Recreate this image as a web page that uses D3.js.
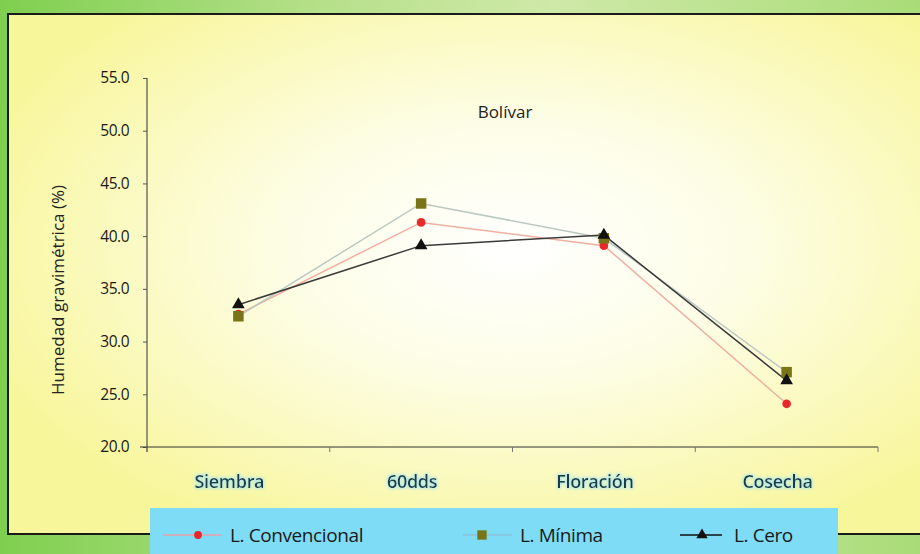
<!DOCTYPE html>
<html>
<head>
<meta charset="utf-8">
<script src="https://cdn.jsdelivr.net/npm/d3@7/dist/d3.min.js"></script>
<style>
  html, body { margin: 0; padding: 0; background: #8fd35c; }
  svg { display: block; }
</style>
</head>
<body>
<script>
// Stages of the crop cycle and soil moisture per tillage system
const stages = ["Siembra", "60dds", "Floración", "Cosecha"];
const convencional = [32.6, 41.3, 39.1, 24.1];
const minima = [32.4, 43.1, 39.8, 27.1];
const cero = [33.5, 39.1, 40.1, 26.3];
const yTicks = [20, 25, 30, 35, 40, 45, 50, 55];
const seriesNames = ["L. Convencional", "L. Mínima", "L. Cero"];

const W = 920, H = 554;
const svg = d3.select("body").append("svg").attr("width", W).attr("height", H);
const defs = svg.append("defs");

// green page background
const bg = defs.append("linearGradient").attr("id", "bg").attr("x1", 0).attr("x2", 1).attr("y1", 0).attr("y2", 0);
bg.append("stop").attr("offset", "0%").attr("stop-color", "#7fcf4f");
bg.append("stop").attr("offset", "35%").attr("stop-color", "#b6e08a");
bg.append("stop").attr("offset", "60%").attr("stop-color", "#cfe9a8");
bg.append("stop").attr("offset", "100%").attr("stop-color", "#a9dc78");
svg.append("rect").attr("width", W).attr("height", H).attr("fill", "url(#bg)");

// pale yellow panel, whiter toward the middle
const panel = defs.append("radialGradient").attr("id", "panel")
  .attr("cx", "55%").attr("cy", "45%").attr("r", "62%");
panel.append("stop").attr("offset", "0%").attr("stop-color", "#ffffff");
panel.append("stop").attr("offset", "40%").attr("stop-color", "#fdfde6");
panel.append("stop").attr("offset", "100%").attr("stop-color", "#f8f69a");
svg.append("rect").attr("x", 8).attr("y", 14).attr("width", W).attr("height", 520)
  .attr("fill", "url(#panel)").attr("stroke", "#1a1a1a").attr("stroke-width", 2);

const x = d3.scaleBand().domain(stages).range([147, 878]).padding(0);
const y = d3.scaleLinear().domain([20, 55]).range([447, 78]);
const cx = d => x(d) + x.bandwidth() / 2;

// axes
const yAxis = d3.axisLeft(y).tickValues(yTicks).tickFormat(d3.format(".1f")).tickSize(4).tickPadding(14);
const gy = svg.append("g").attr("transform", "translate(147,0)").call(yAxis);
gy.select(".domain").attr("stroke", "#333").attr("d", "M0,78V452");
gy.selectAll(".tick line").attr("stroke", "#555");
gy.selectAll(".tick text").attr("fill", "#1a1a1a").style("font-family", "'Open Sans', sans-serif").style("font-size", "15.5px").style("letter-spacing", "-0.5px");

const xAxis = d3.axisBottom(x).tickValues([]).tickSizeOuter(0);
const gx = svg.append("g").attr("transform", "translate(0,447)").call(xAxis);
gx.select(".domain").attr("stroke", "#333").attr("d", "M140,0H878");
gx.selectAll(".bnd").data(stages.concat(["end"])).enter().append("line")
  .attr("x1", (d, i) => i < stages.length ? x(d) : x.range()[1])
  .attr("x2", (d, i) => i < stages.length ? x(d) : x.range()[1])
  .attr("y1", 0).attr("y2", 5).attr("stroke", "#777");

// category labels with a faint cyan halo
const glow = defs.append("filter").attr("id", "glow").attr("x", "-10%").attr("y", "-30%").attr("width", "120%").attr("height", "160%");
glow.append("feMorphology").attr("in", "SourceAlpha").attr("operator", "dilate").attr("radius", 1).attr("result", "d");
glow.append("feGaussianBlur").attr("in", "d").attr("stdDeviation", 1.5).attr("result", "b");
glow.append("feFlood").attr("flood-color", "#a8e8f0").attr("flood-opacity", 0.8);
glow.append("feComposite").attr("in2", "b").attr("operator", "in").attr("result", "c");
const fm = glow.append("feMerge");
fm.append("feMergeNode").attr("in", "c");
fm.append("feMergeNode").attr("in", "SourceGraphic");

svg.selectAll(".cat").data(stages).enter().append("text")
  .attr("x", d => cx(d) - 9).attr("y", 488)
  .attr("text-anchor", "middle").attr("fill", "#1d3a46")
  .attr("filter", "url(#glow)")
  .style("font-family", "'Open Sans', sans-serif").style("font-size", "18px").style("font-weight", 600)
  .style("letter-spacing", "-0.3px")
  .text(d => d);

// axis title
svg.append("text").attr("transform", "translate(64,290) rotate(-90)")
  .attr("text-anchor", "middle").attr("fill", "#222")
  .style("font-family", "'Open Sans', sans-serif").style("font-size", "17px")
  .text("Humedad gravimétrica (%)");

// chart title
svg.append("text").attr("x", 505).attr("y", 118).attr("text-anchor", "middle").attr("fill", "#222")
  .style("font-family", "'Open Sans', sans-serif").style("font-size", "17px").text("Bolívar");

// series
const series = [
  { name: seriesNames[0], values: convencional, line: "#f0b0a0", lw: 1.5, color: "#e8282a", shape: d3.symbolCircle, size: 60 },
  { name: seriesNames[1], values: minima, line: "#bcc8c2", lw: 1.5, color: "#7a7418", shape: d3.symbolSquare, size: 110 },
  { name: seriesNames[2], values: cero, line: "#3a3a3a", lw: 1.5, color: "#111", shape: d3.symbolTriangle, size: 70 }
];
const line = d3.line().x(d => cx(d.s)).y(d => y(d.v));
series.forEach(s => {
  const pts = stages.map((st, i) => ({ s: st, v: s.values[i] }));
  svg.append("path").datum(pts).attr("d", line).attr("fill", "none")
    .attr("stroke", s.line).attr("stroke-width", s.lw);
});
series.forEach(s => {
  const pts = stages.map((st, i) => ({ s: st, v: s.values[i] }));
  svg.selectAll(null).data(pts).enter().append("path")
    .attr("d", d3.symbol().type(s.shape).size(s.size))
    .attr("transform", d => `translate(${cx(d.s)},${y(d.v)})`)
    .attr("fill", s.color);
});

// legend
svg.append("line").attr("x1", 8).attr("x2", 150).attr("y1", 534).attr("y2", 534).attr("stroke", "#1a1a1a").attr("stroke-width", 2);
svg.append("rect").attr("x", 150).attr("y", 508).attr("width", 688).attr("height", 50).attr("fill", "#7fdcf6");
svg.append("line").attr("x1", 838).attr("x2", 920).attr("y1", 534).attr("y2", 534).attr("stroke", "#1a1a1a").attr("stroke-width", 2);
const legItems = [
  { x0: 163, x1: 222, mk: 198, tx: 230, stroke: "#e8a0a8" },
  { x0: 463, x1: 512, mk: 482, tx: 520, stroke: "#8cc0d8" },
  { x0: 680, x1: 722, mk: 702, tx: 734, stroke: "#111" }
];
const leg = svg.selectAll(".leg").data(series).enter().append("g")
  .attr("transform", "translate(0,535)");
leg.append("line").attr("x1", (d, i) => legItems[i].x0).attr("x2", (d, i) => legItems[i].x1)
  .attr("stroke", (d, i) => legItems[i].stroke).attr("stroke-width", 1.5);
leg.append("path").attr("d", d => d3.symbol().type(d.shape).size(d.size * 0.8)())
  .attr("transform", (d, i) => `translate(${legItems[i].mk},0)`).attr("fill", d => d.color);
leg.append("text").attr("x", (d, i) => legItems[i].tx).attr("y", 7).attr("fill", "#1a1a1a")
  .style("font-family", "'Open Sans', sans-serif").style("font-size", "19px").style("letter-spacing", "-0.4px")
  .text(d => d.name);
</script>
</body>
</html>
